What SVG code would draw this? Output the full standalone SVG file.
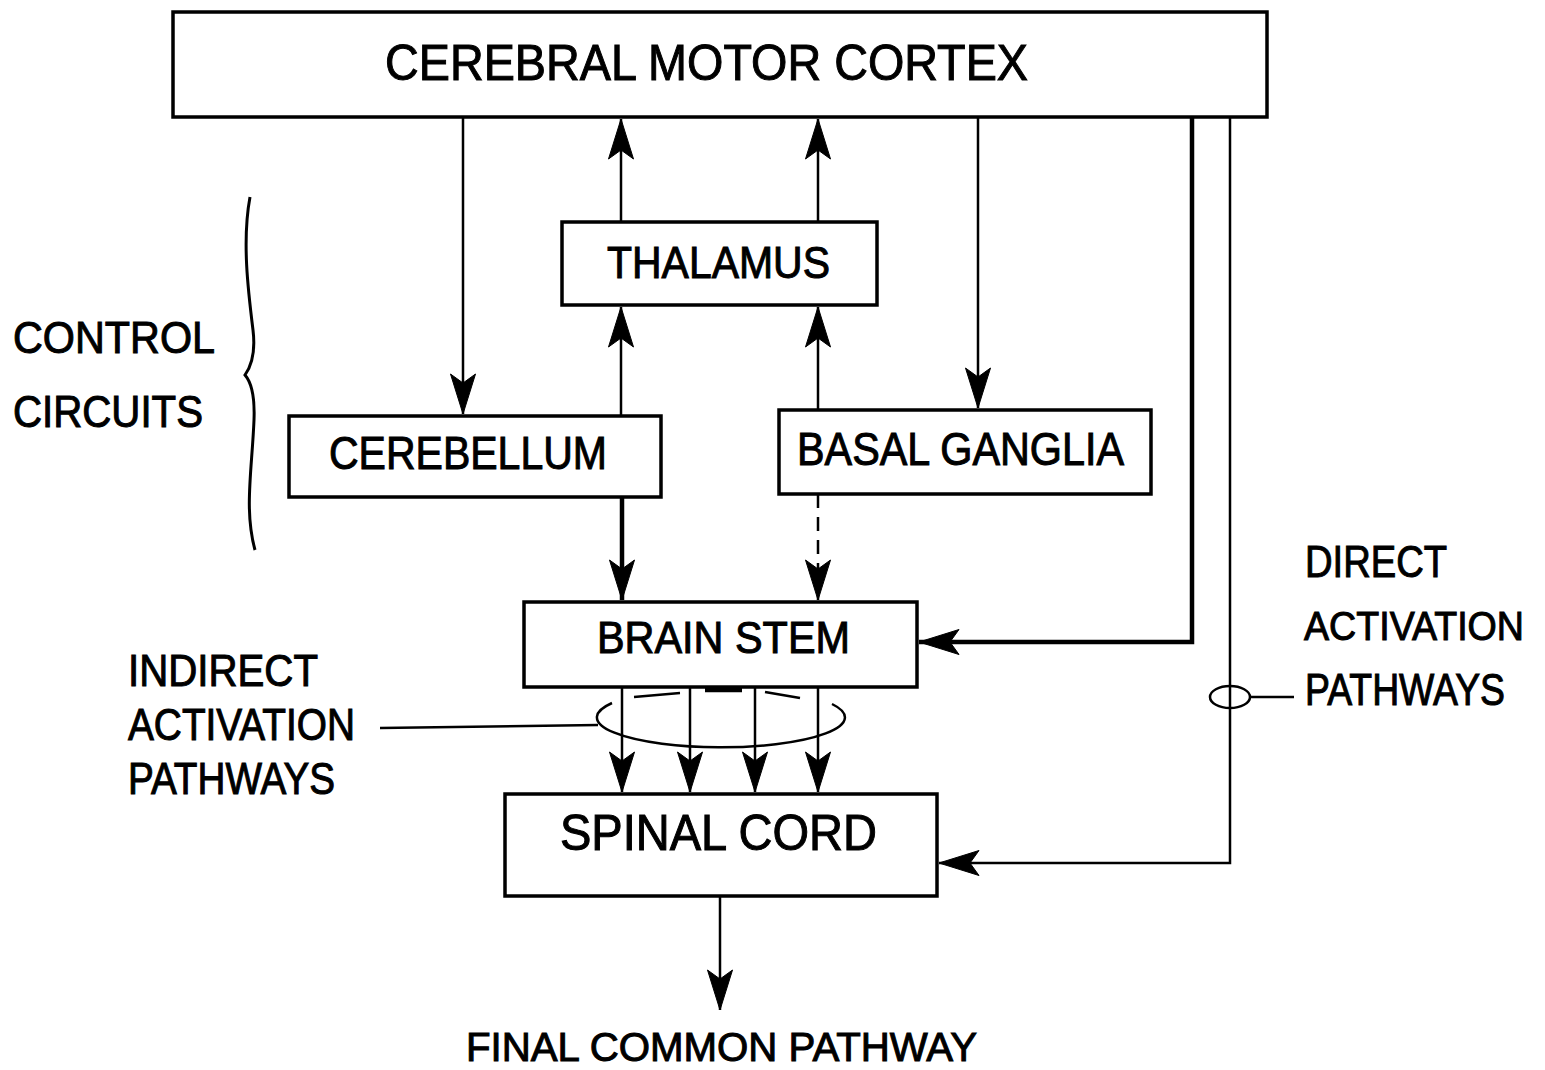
<svg xmlns="http://www.w3.org/2000/svg" width="1545" height="1070" viewBox="0 0 1545 1070">
<style>
.box{fill:#fff;stroke:#000;stroke-width:3.5}
.t{font-family:"Liberation Sans",Arial,sans-serif;fill:#000;stroke:#000;stroke-width:1}
.ln{fill:none;stroke:#000;stroke-width:2.5}
.thk{fill:none;stroke:#000;stroke-width:4.5}
</style>
<defs>
<marker id="ah" viewBox="-41 -13 42 26" refX="0" refY="0" markerWidth="42" markerHeight="26" markerUnits="userSpaceOnUse" orient="auto">
<path d="M0,0 L-40,-12.5 L-31,0 L-40,12.5 Z" fill="#000" stroke="#000" stroke-width="1" stroke-linejoin="round"/>
</marker>
</defs>
<rect width="1545" height="1070" fill="#fff"/>
<g id="connectors">
<line class="ln" x1="463" y1="117" x2="463" y2="414" marker-end="url(#ah)"/>
<line class="ln" x1="621" y1="222" x2="621" y2="119" marker-end="url(#ah)"/>
<line class="ln" x1="818" y1="222" x2="818" y2="119" marker-end="url(#ah)"/>
<line class="ln" x1="621" y1="416" x2="621" y2="307" marker-end="url(#ah)"/>
<line class="ln" x1="818" y1="410" x2="818" y2="307" marker-end="url(#ah)"/>
<line class="ln" x1="978" y1="117" x2="978" y2="408" marker-end="url(#ah)"/>
<line class="thk" x1="622" y1="497" x2="622" y2="600" marker-end="url(#ah)"/>
<line class="ln" x1="818" y1="494" x2="818" y2="600" stroke-dasharray="14 9" stroke-width="3" marker-end="url(#ah)"/>
<polyline class="thk" points="1192,117 1192,642 919,642" marker-end="url(#ah)"/>
<polyline class="ln" points="1230,117 1230,863 939,863" marker-end="url(#ah)"/>
<line class="ln" x1="622" y1="687" x2="622" y2="792" marker-end="url(#ah)"/>
<line class="ln" x1="690" y1="687" x2="690" y2="792" marker-end="url(#ah)"/>
<line class="ln" x1="755" y1="687" x2="755" y2="792" marker-end="url(#ah)"/>
<line class="ln" x1="818" y1="687" x2="818" y2="792" marker-end="url(#ah)"/>
<line class="ln" x1="720" y1="896" x2="720" y2="1010" marker-end="url(#ah)"/>
<path class="ln" d="M612,703 A124,30 0 1 0 832,704"/>
<path class="ln" d="M634,697 L680,693"/>
<path class="thk" d="M705,690 L742,690"/>
<path class="ln" d="M765,692 L800,698"/>
<line class="ln" x1="380" y1="728" x2="598" y2="725"/>
<ellipse class="ln" cx="1230" cy="697" rx="20" ry="11"/>
<line class="ln" x1="1250" y1="697" x2="1294" y2="697"/>
<path fill="none" stroke="#000" stroke-width="3" d="M250,197 C242,240 248,290 253,330 C256,355 250,368 245,375 C251,382 255,395 254,420 C252,470 244,510 255,550"/>
</g>
<g id="cortex">
<rect class="box" x="173" y="12" width="1094" height="105"/>
<text class="t" x="385" y="80" font-size="50" textLength="643" lengthAdjust="spacingAndGlyphs">CEREBRAL MOTOR CORTEX</text>
</g>
<g id="thalamus">
<rect class="box" x="562" y="222" width="315" height="83"/>
<text class="t" x="607" y="278" font-size="45" textLength="223" lengthAdjust="spacingAndGlyphs">THALAMUS</text>
</g>
<g id="cerebellum">
<rect class="box" x="289" y="416" width="372" height="81"/>
<text class="t" x="329" y="469" font-size="46" textLength="278" lengthAdjust="spacingAndGlyphs">CEREBELLUM</text>
</g>
<g id="basal-ganglia">
<rect class="box" x="779" y="410" width="372" height="84"/>
<text class="t" x="797" y="465" font-size="46" textLength="327" lengthAdjust="spacingAndGlyphs">BASAL GANGLIA</text>
</g>
<g id="brain-stem">
<rect class="box" x="524" y="602" width="393" height="85"/>
<text class="t" x="597" y="653" font-size="45" textLength="253" lengthAdjust="spacingAndGlyphs">BRAIN STEM</text>
</g>
<g id="spinal-cord">
<rect class="box" x="505" y="794" width="432" height="102"/>
<text class="t" x="560" y="850" font-size="50" textLength="317" lengthAdjust="spacingAndGlyphs">SPINAL CORD</text>
</g>
<g id="labels">
<text class="t" x="13" y="353" font-size="45" textLength="202" lengthAdjust="spacingAndGlyphs">CONTROL</text>
<text class="t" x="13" y="427" font-size="45" textLength="190" lengthAdjust="spacingAndGlyphs">CIRCUITS</text>
<text class="t" x="128" y="686" font-size="44" textLength="190" lengthAdjust="spacingAndGlyphs">INDIRECT</text>
<text class="t" x="128" y="740" font-size="44" textLength="227" lengthAdjust="spacingAndGlyphs">ACTIVATION</text>
<text class="t" x="128" y="794" font-size="44" textLength="207" lengthAdjust="spacingAndGlyphs">PATHWAYS</text>
<text class="t" x="1305" y="577" font-size="44" textLength="142" lengthAdjust="spacingAndGlyphs">DIRECT</text>
<text class="t" x="1304" y="640" font-size="40" textLength="220" lengthAdjust="spacingAndGlyphs">ACTIVATION</text>
<text class="t" x="1305" y="705" font-size="44" textLength="200" lengthAdjust="spacingAndGlyphs">PATHWAYS</text>
<text class="t" x="466" y="1061" font-size="41" textLength="511" lengthAdjust="spacingAndGlyphs">FINAL COMMON PATHWAY</text>
</g>
</svg>
